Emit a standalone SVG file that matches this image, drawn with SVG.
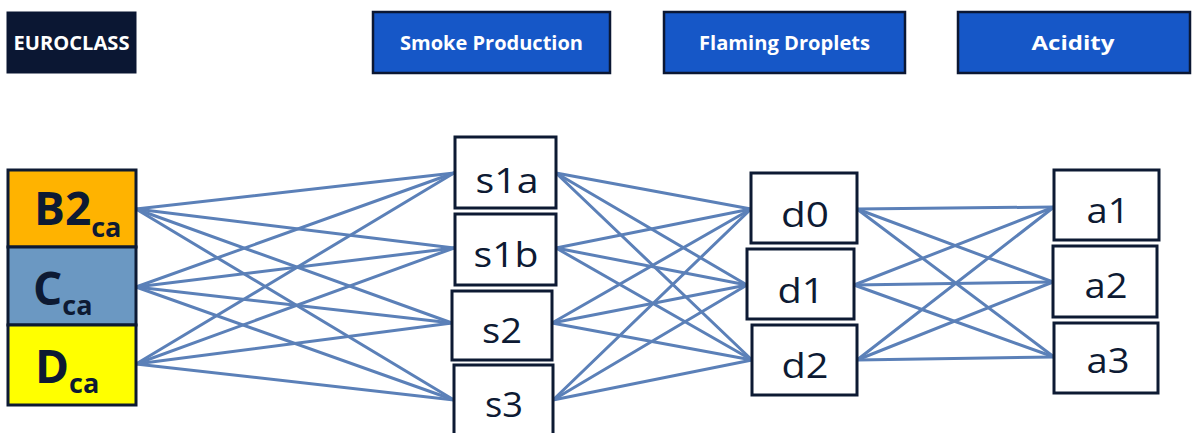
<svg xmlns="http://www.w3.org/2000/svg" width="1192" height="433" viewBox="0 0 1192 433">
<style>
.hdr{fill:#1657C7;stroke:#0B1733;stroke-width:2.5}
.hdrt{font-family:"Open Sans","Liberation Sans",sans-serif;font-weight:bold;font-size:19px;fill:#ffffff;text-anchor:middle}
.box{fill:#ffffff;stroke:#0D1A33;stroke-width:3}
.nt{font-family:"Open Sans","Liberation Sans",sans-serif;font-size:34px;fill:#0D1A33;text-anchor:middle}
.lt{font-family:"Open Sans","Liberation Sans",sans-serif;font-weight:bold;fill:#0D1A33}
.edges line{stroke:#5B80B8;stroke-width:3;stroke-linecap:round}
</style>
<rect width="1192" height="433" fill="#ffffff"/>
<g id="euroclass"><rect x="7" y="12" width="129" height="61" fill="#0B1733" stroke="#0B1733" stroke-width="1"/><text class="hdrt" x="71.5" y="49.5" font-size="17" textLength="116" lengthAdjust="spacingAndGlyphs">EUROCLASS</text></g>
<g id="smoke"><rect class="hdr" x="373" y="12" width="237" height="61"/><text class="hdrt" x="491.5" y="49.5" textLength="183" lengthAdjust="spacingAndGlyphs">Smoke Production</text></g>
<g id="flaming"><rect class="hdr" x="664" y="12" width="241" height="61"/><text class="hdrt" x="784.5" y="49.5" textLength="171" lengthAdjust="spacingAndGlyphs">Flaming Droplets</text></g>
<g id="acidity"><rect class="hdr" x="958" y="12" width="232" height="61"/><text class="hdrt" x="1073" y="49.5" textLength="83" lengthAdjust="spacingAndGlyphs">Acidity</text></g>

<g class="edges" id="connectors">
<line x1="136" y1="209" x2="454" y2="173"/><line x1="136" y1="209" x2="454" y2="248"/><line x1="136" y1="209" x2="452" y2="323"/><line x1="136" y1="209" x2="454" y2="400"/>
<line x1="136" y1="287" x2="454" y2="173"/><line x1="136" y1="287" x2="454" y2="248"/><line x1="136" y1="287" x2="452" y2="323"/><line x1="136" y1="287" x2="454" y2="400"/>
<line x1="136" y1="364" x2="454" y2="173"/><line x1="136" y1="364" x2="454" y2="248"/><line x1="136" y1="364" x2="452" y2="323"/><line x1="136" y1="364" x2="454" y2="400"/>
<line x1="556" y1="173" x2="751" y2="209"/><line x1="556" y1="173" x2="747" y2="285"/><line x1="556" y1="173" x2="752" y2="360"/>
<line x1="556" y1="248" x2="751" y2="209"/><line x1="556" y1="248" x2="747" y2="285"/><line x1="556" y1="248" x2="752" y2="360"/>
<line x1="552" y1="323" x2="751" y2="209"/><line x1="552" y1="323" x2="747" y2="285"/><line x1="552" y1="323" x2="752" y2="360"/>
<line x1="553" y1="400" x2="751" y2="209"/><line x1="553" y1="400" x2="747" y2="285"/><line x1="553" y1="400" x2="752" y2="360"/>
<line x1="857" y1="209" x2="1054" y2="207"/><line x1="857" y1="209" x2="1053" y2="282"/><line x1="857" y1="209" x2="1054" y2="357"/>
<line x1="854" y1="285" x2="1054" y2="207"/><line x1="854" y1="285" x2="1053" y2="282"/><line x1="854" y1="285" x2="1054" y2="357"/>
<line x1="857" y1="360" x2="1054" y2="207"/><line x1="857" y1="360" x2="1053" y2="282"/><line x1="857" y1="360" x2="1054" y2="357"/>
</g>

<g id="b2ca"><rect x="8" y="170" width="128" height="77" fill="#FFB300" stroke="#0D1A33" stroke-width="3"/><text class="lt" x="34" y="225" font-size="46">B2<tspan font-size="27" dy="12">ca</tspan></text></g>
<g id="cca"><rect x="8" y="247" width="128" height="78" fill="#6B98C2" stroke="#0D1A33" stroke-width="3"/><text class="lt" x="33" y="305" font-size="46">C<tspan font-size="27" dy="10">ca</tspan></text></g>
<g id="dca"><rect x="8" y="325" width="128" height="80" fill="#FFFF00" stroke="#0D1A33" stroke-width="3"/><text class="lt" x="35" y="383" font-size="46">D<tspan font-size="27" dy="10">ca</tspan></text></g>

<g id="s1a"><rect class="box" x="455" y="137" width="101" height="71"/><text class="nt" x="507" y="193" textLength="63" lengthAdjust="spacingAndGlyphs">s1a</text></g>
<g id="s1b"><rect class="box" x="455" y="214" width="101" height="71"/><text class="nt" x="506" y="267" textLength="65" lengthAdjust="spacingAndGlyphs">s1b</text></g>
<g id="s2"><rect class="box" x="452" y="291" width="100" height="69"/><text class="nt" x="502" y="343" textLength="40" lengthAdjust="spacingAndGlyphs">s2</text></g>
<g id="s3"><rect class="box" x="454" y="365" width="99" height="75"/><text class="nt" x="504" y="417" textLength="38" lengthAdjust="spacingAndGlyphs">s3</text></g>

<g id="d0"><rect class="box" x="751" y="173" width="106" height="70"/><text class="nt" x="805" y="227" textLength="48" lengthAdjust="spacingAndGlyphs">d0</text></g>
<g id="d1"><rect class="box" x="747" y="249" width="107" height="70"/><text class="nt" x="801" y="303" textLength="47" lengthAdjust="spacingAndGlyphs">d1</text></g>
<g id="d2"><rect class="box" x="752" y="325" width="105" height="70"/><text class="nt" x="805" y="378" textLength="47" lengthAdjust="spacingAndGlyphs">d2</text></g>

<g id="a1"><rect class="box" x="1054" y="170" width="105" height="70"/><text class="nt" x="1108" y="223" textLength="43" lengthAdjust="spacingAndGlyphs">a1</text></g>
<g id="a2"><rect class="box" x="1053" y="246" width="104" height="71"/><text class="nt" x="1106" y="298" textLength="43" lengthAdjust="spacingAndGlyphs">a2</text></g>
<g id="a3"><rect class="box" x="1054" y="323" width="104" height="70"/><text class="nt" x="1108" y="373" textLength="43" lengthAdjust="spacingAndGlyphs">a3</text></g>
</svg>
